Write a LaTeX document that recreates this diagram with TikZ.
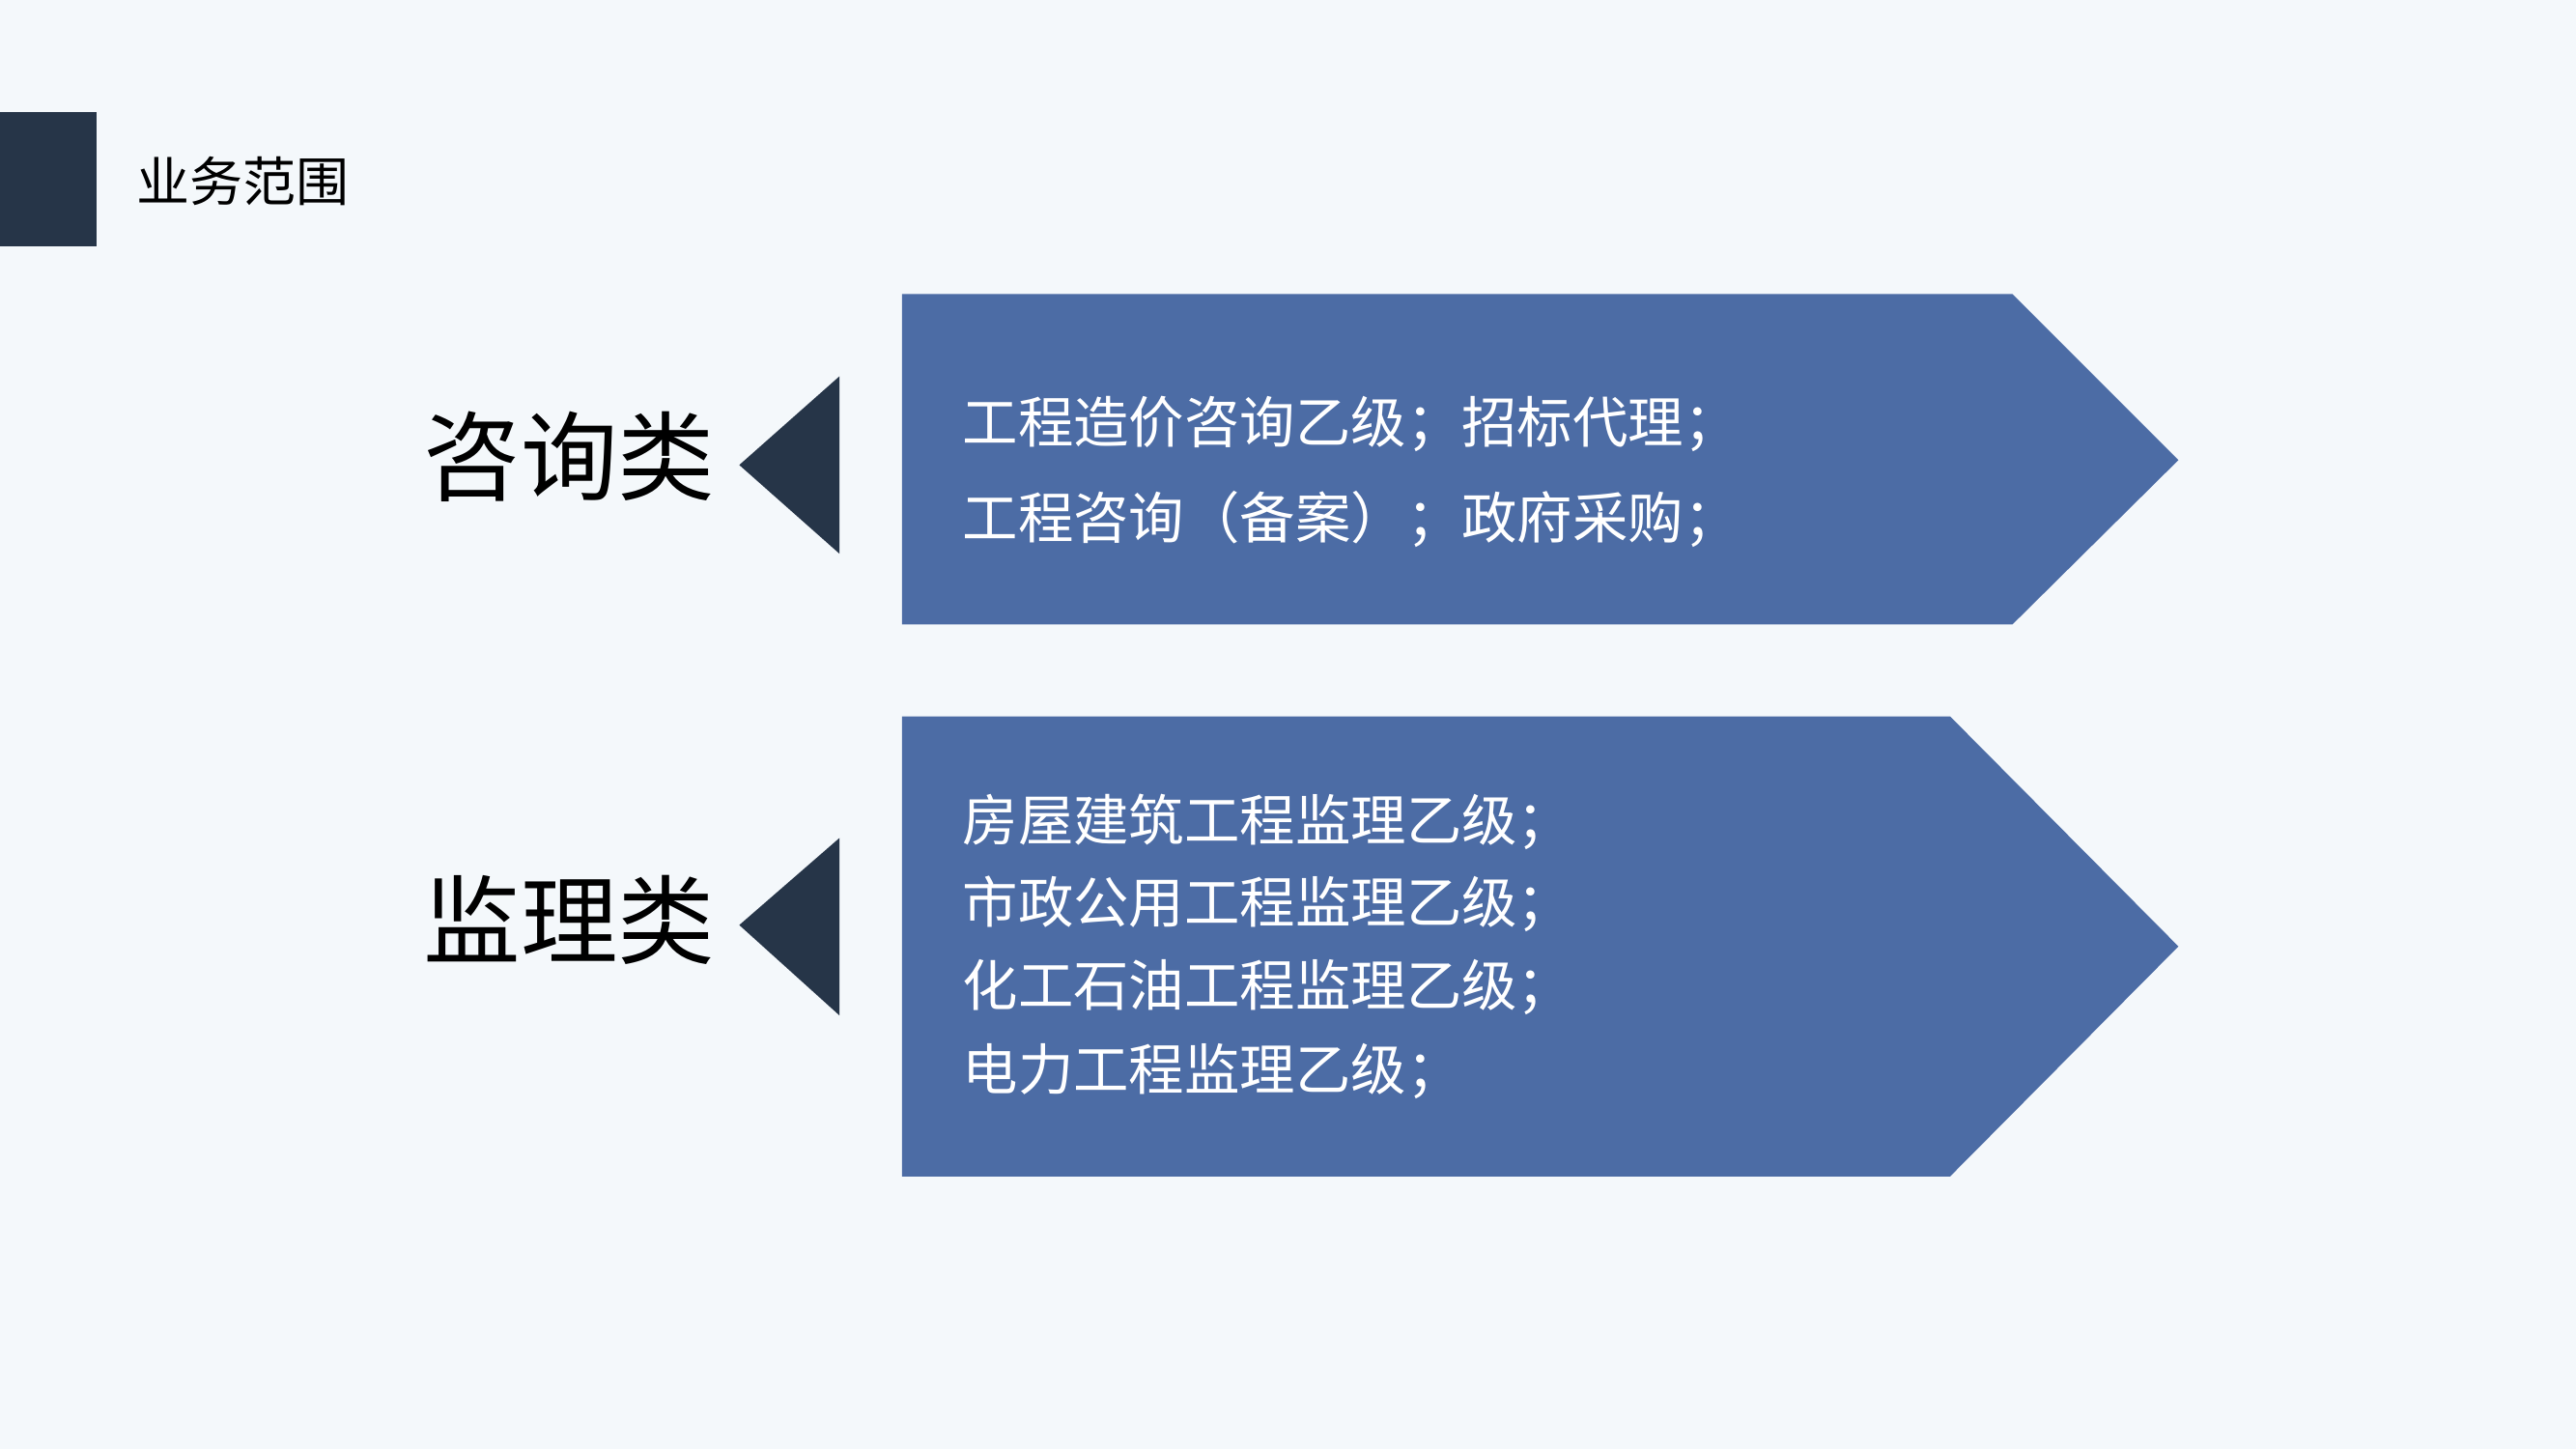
\documentclass[tikz,border=0pt]{standalone}
\usepackage{fontspec}
\setmainfont{Noto Sans CJK SC}
\definecolor{bgc}{HTML}{F4F8FB}
\definecolor{darkc}{HTML}{263548}
\definecolor{bluec}{HTML}{4C6CA5}
\begin{document}
\begin{tikzpicture}[
    x=0.01cm, y=-0.01cm,
    every node/.style={inner sep=0pt, outer sep=0pt},
    head/.style={font=\fontsize{9.2pt}{11pt}\selectfont, anchor=west},
    cat/.style={font=\fontsize{16.8pt}{20pt}\selectfont, anchor=west},
    item/.style={font=\fontsize{9.6pt}{12pt}\selectfont, text=white, anchor=west},
    darkmark/.style={fill=darkc},
    panel/.style={fill=bluec}
    ]

    \fill[bgc] (0,0) rectangle (1568,882);
    \useasboundingbox (0,0) rectangle (1568,882);

    % title bar
    \fill[darkmark] (0,68) rectangle (59,150);
    \node[head] (title) at (83,110) {业务范围};

    % first group
    \fill[darkmark] (450,283) -- (511,229) -- (511,337) -- cycle;
    \fill[panel] (549,179) -- (1225,179) -- (1326,280) -- (1225,380) -- (549,380) -- cycle;
    \node[cat] (zx) at (258,278) {咨询类};
    \node[item] (zx1) at (586,258) {工程造价咨询乙级；招标代理；};
    \node[item] (zx2) at (586,316) {工程咨询（备案）；政府采购；};

    % second group
    \fill[darkmark] (450,563) -- (511,510) -- (511,618) -- cycle;
    \fill[panel] (549,436) -- (1187,436) -- (1326,576) -- (1187,716) -- (549,716) -- cycle;
    \node[cat] (jl) at (258,560) {监理类};
    \node[item] (jl1) at (586,500) {房屋建筑工程监理乙级；};
    \node[item] (jl2) at (586,550) {市政公用工程监理乙级；};
    \node[item] (jl3) at (586,601) {化工石油工程监理乙级；};
    \node[item] (jl4) at (586,652) {电力工程监理乙级；};

\end{tikzpicture}
\end{document}
